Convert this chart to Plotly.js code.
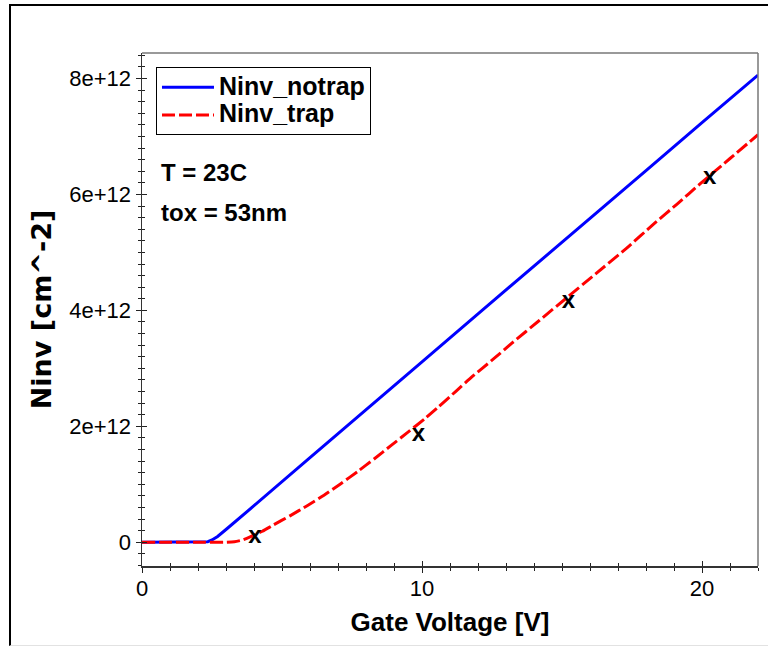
<!DOCTYPE html>
<html>
<head>
<meta charset="utf-8">
<script src="https://cdn.plot.ly/plotly-3.0.1.min.js"></script>
<style>
  html, body { margin: 0; padding: 0; background: #fff; }
  #chart { width: 768px; height: 646px; }
  #frame { position: absolute; left: 9px; top: 4px; right: 0; bottom: 0;
           border-top: 2px solid #000; border-left: 2px solid #000;
           border-bottom: 1px solid #e2e2e2; pointer-events: none; }
</style>
</head>
<body>
<div id="chart"></div>
<div id="frame"></div>
<script>
// ---- data ----
const notrapV = [0, 1, 2, 2.2, 2.35, 2.5, 2.7, 3.0, 3.5, 4, 6, 8, 10, 12, 14, 16, 18, 20, 22];
const notrapN = [0, 0, 0, 0, 0.01e12, 0.04e12, 0.10e12, 0.22e12, 0.42e12, 0.63e12, 1.46e12, 2.28e12, 3.11e12, 3.94e12, 4.76e12, 5.59e12, 6.41e12, 7.24e12, 8.06e12];

const trapV = [0, 1, 2, 3.0, 3.3, 3.6, 3.9, 4.3, 4.7, 5.3, 5.9, 6.5, 7.1, 7.7, 8.3, 8.9, 9.5, 10.1, 10.6, 11.2, 11.8, 12.5, 13.2, 14.2, 15.2, 16.2, 17.3, 18.3, 19.1, 19.95, 21, 22];
const trapN = [0, 0, 0, 0, 0.01e12, 0.04e12, 0.10e12, 0.19e12, 0.30e12, 0.46e12, 0.63e12, 0.81e12, 1.01e12, 1.22e12, 1.44e12, 1.67e12, 1.90e12, 2.13e12, 2.34e12, 2.60e12, 2.86e12, 3.14e12, 3.43e12, 3.83e12, 4.23e12, 4.63e12, 5.07e12, 5.50e12, 5.83e12, 6.19e12, 6.62e12, 7.03e12];

const measV = [4.03, 9.87, 15.23, 20.27];
const measN = [0.09e12, 1.85e12, 4.15e12, 6.29e12];

const seriesNames = ['Ninv_notrap', 'Ninv_trap'];
const xTitle = 'Gate Voltage [V]';
const yTitle = 'Ninv [cm^-2]';
const noteLines = ['T = 23C', 'tox = 53nm'];
const xRange = [0, 22];
const yRange = [-0.41e12, 8.44e12];

const FONT = 'Liberation Sans, Arial, Helvetica, sans-serif';
const legendName = n => '<span style="font-size:25px">' + n + '</span>';

const traces = [
  { x: notrapV, y: notrapN, name: legendName(seriesNames[0]), mode: 'lines',
    line: { color: '#0000ff', width: 3 } },
  { x: trapV, y: trapN, name: legendName(seriesNames[1]), mode: 'lines',
    line: { color: '#ff0000', width: 3, dash: '13px,4px', shape: 'spline', smoothing: 0.5 } },
  { x: measV, y: measN, mode: 'text', text: measV.map(() => 'x'),
    textposition: 'middle center', showlegend: false,
    textfont: { family: FONT, size: 24, color: '#000', weight: 'bold' } },
  { x: [], y: [], xaxis: 'x2', yaxis: 'y2', showlegend: false, hoverinfo: 'skip' }
];

const tickCol = '#222';
const layout = {
  width: 768, height: 646,
  margin: { l: 142, r: 10, t: 53, b: 80 },
  paper_bgcolor: '#fff', plot_bgcolor: '#fff',
  font: { family: FONT, color: '#000' },
  showlegend: true,
  legend: {
    x: 0.0227, y: 0.972, xanchor: 'left', yanchor: 'top',
    bgcolor: '#fff', bordercolor: '#000', borderwidth: 1,
    font: { family: FONT, size: 19, color: '#000', weight: 'bold' },
    itemwidth: 52, tracegroupgap: 0
  },
  xaxis: {
    range: xRange, dtick: 10, tick0: 0,
    ticks: 'outside', ticklen: 5, tickwidth: 1, tickcolor: tickCol,
    minor: { dtick: 1, ticks: 'outside', ticklen: 3, tickcolor: tickCol, tickwidth: 1 },
    showline: true, linecolor: '#333', linewidth: 1.5,
    showgrid: false, zeroline: false,
    ticklabelstandoff: -3,
    tickfont: { family: FONT, size: 22, color: '#000' },
    title: { text: xTitle, font: { family: FONT, size: 26, color: '#000', weight: 'bold' }, standoff: 13 }
  },
  xaxis2: {
    overlaying: 'x', anchor: 'y', side: 'bottom', range: xRange, dtick: 10, tick0: 0,
    ticks: 'inside', ticklen: 5, tickwidth: 1, tickcolor: tickCol,
    minor: { dtick: 1, ticks: 'inside', ticklen: 3, tickcolor: tickCol, tickwidth: 1 },
    showticklabels: false, showline: false, showgrid: false, zeroline: false
  },
  yaxis: {
    range: yRange, dtick: 2e12, tick0: 0, exponentformat: 'e', showexponent: 'all',
    ticks: 'outside', ticklen: 5, tickwidth: 1, tickcolor: tickCol,
    minor: { dtick: 2e11, ticks: 'outside', ticklen: 3, tickcolor: tickCol, tickwidth: 1 },
    showline: true, linecolor: '#333', linewidth: 1.5,
    showgrid: false, zeroline: false,
    tickfont: { family: FONT, size: 22, color: '#000' },
    title: { text: yTitle, font: { family: 'DejaVu Sans', size: 27, color: '#000', weight: 'bold' }, standoff: 10 }
  },
  yaxis2: {
    overlaying: 'y', anchor: 'x', side: 'left', range: yRange, dtick: 2e12, tick0: 0,
    ticks: 'inside', ticklen: 5, tickwidth: 1, tickcolor: tickCol,
    minor: { dtick: 2e11, ticks: 'inside', ticklen: 3, tickcolor: tickCol, tickwidth: 1 },
    showticklabels: false, showline: false, showgrid: false, zeroline: false
  },
  shapes: [
    { type: 'line', xref: 'paper', yref: 'paper', x0: 0, x1: 1, y0: 1, y1: 1, line: { color: '#777', width: 1.5 } },
    { type: 'line', xref: 'paper', yref: 'paper', x0: 1, x1: 1, y0: 0, y1: 1, line: { color: '#777', width: 1.5 } }
  ],
  annotations: noteLines.map((t, i) => ({
    text: t, xref: 'paper', yref: 'paper', x: 0.027, y: [0.768, 0.690][i],
    xanchor: 'left', yanchor: 'middle', showarrow: false,
    font: { family: FONT, size: 24, color: '#000', weight: 'bold' }
  }))
};

Plotly.newPlot('chart', traces, layout, { displayModeBar: false, staticPlot: true });
</script>
</body>
</html>
